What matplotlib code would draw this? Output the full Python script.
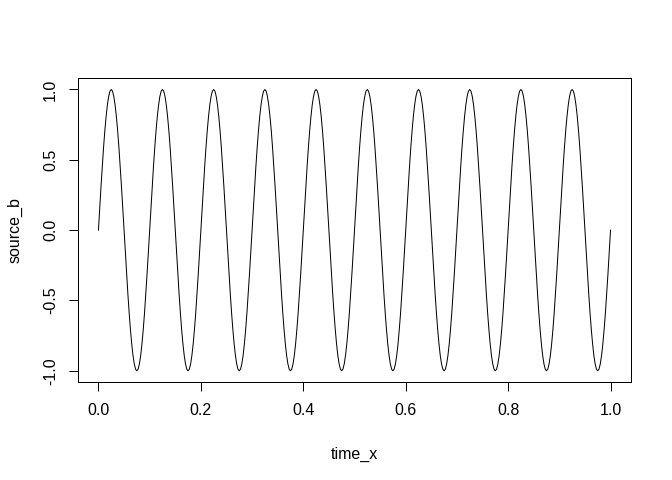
import numpy as np
import matplotlib
matplotlib.use("Agg")
import matplotlib.pyplot as plt

plt.rcParams["font.family"] = ["Liberation Sans", "DejaVu Sans"]

# one period of the wave (starts at 0, peak 1, trough -1)
one_period = [
    0.0, 0.156, 0.309, 0.454, 0.588, 0.707, 0.809, 0.891, 0.951, 0.988,
    1.0, 0.988, 0.951, 0.891, 0.809, 0.707, 0.588, 0.454, 0.309, 0.156,
    0.0, -0.156, -0.309, -0.454, -0.588, -0.707, -0.809, -0.891, -0.951, -0.988,
    -1.0, -0.988, -0.951, -0.891, -0.809, -0.707, -0.588, -0.454, -0.309, -0.156,
]
n_periods = 10
source_b = list(one_period) * n_periods + [0.0]
time_x = np.linspace(0.0, 1.0, len(source_b))

x_ticks = [0.0, 0.2, 0.4, 0.6, 0.8, 1.0]
y_ticks = [-1.0, -0.5, 0.0, 0.5, 1.0]

fig = plt.figure(figsize=(7, 5), dpi=96)
ax = fig.add_axes([0.116, 0.204, 0.823, 0.633])

ax.plot(time_x, source_b, color="black", linewidth=0.75)

ax.set_xlim(-0.04, 1.04)
ax.set_ylim(-1.08, 1.08)
ax.set_xticks(x_ticks)
ax.set_xticklabels([f"{v:.1f}" for v in x_ticks])
ax.set_yticks(y_ticks)
ax.set_yticklabels([f"{v:.1f}" for v in y_ticks], rotation=90, va="center")
ax.tick_params(direction="out", length=7, width=0.75, labelsize=12)
ax.tick_params(axis="x", pad=9)
ax.tick_params(axis="y", pad=8)

for spine in ax.spines.values():
    spine.set_linewidth(0.75)

ax.set_xlabel("time_x", fontsize=12, labelpad=21)
ax.set_ylabel("source_b", fontsize=12, labelpad=15)

fig.savefig("out.png", dpi=96)
